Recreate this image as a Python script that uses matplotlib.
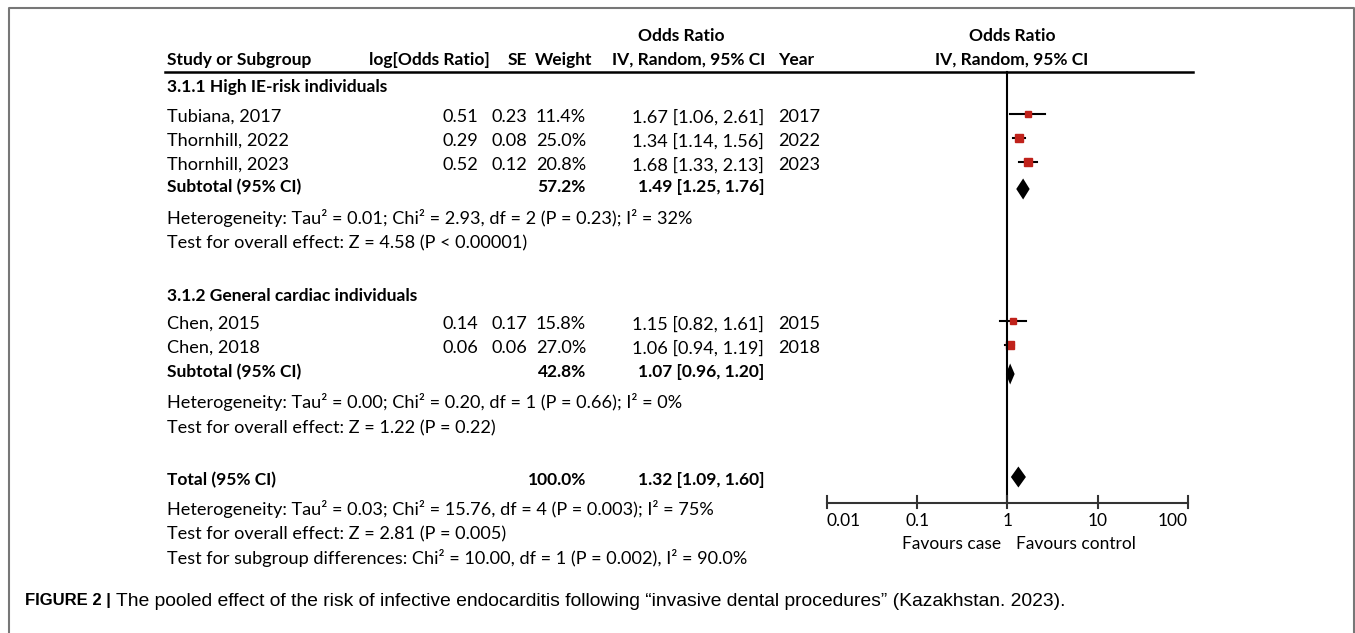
import matplotlib
matplotlib.use("Agg")
import matplotlib.pyplot as plt
import numpy as np

W, H = 1355, 633
TXT = ["Lato", "DejaVu Sans"]
CAP = ["Liberation Sans", "DejaVu Sans"]
FS, FSB = 13.1, 12.5

# ── data ────────────────────────────────────────────────────────────────────
studies = ["Tubiana, 2017", "Thornhill, 2022", "Thornhill, 2023", "Chen, 2015", "Chen, 2018"]
log_or  = [0.51, 0.29, 0.52, 0.14, 0.06]
se      = [0.23, 0.08, 0.12, 0.17, 0.06]
weight  = [11.4, 25.0, 20.8, 15.8, 27.0]
odds    = [1.67, 1.34, 1.68, 1.15, 1.06]
ci_lo   = [1.06, 1.14, 1.33, 0.82, 0.94]
ci_hi   = [2.61, 1.56, 2.13, 1.61, 1.19]
years   = [2017, 2022, 2023, 2015, 2018]

groups     = ["3.1.1 High IE-risk individuals", "3.1.2 General cardiac individuals"]
sub_weight = [57.2, 42.8]
sub_or     = [1.49, 1.07]
sub_lo     = [1.25, 0.96]
sub_hi     = [1.76, 1.20]
sub_het    = ["Heterogeneity: Tau² = 0.01; Chi² = 2.93, df = 2 (P = 0.23); I² = 32%",
              "Heterogeneity: Tau² = 0.00; Chi² = 0.20, df = 1 (P = 0.66); I² = 0%"]
sub_test   = ["Test for overall effect: Z = 4.58 (P < 0.00001)",
              "Test for overall effect: Z = 1.22 (P = 0.22)"]

total_weight = 100.0
total_or, total_lo, total_hi = 1.32, 1.09, 1.60
total_notes = ["Heterogeneity: Tau² = 0.03; Chi² = 15.76, df = 4 (P = 0.003); I² = 75%",
               "Test for overall effect: Z = 2.81 (P = 0.005)",
               "Test for subgroup differences: Chi² = 10.00, df = 1 (P = 0.002), I² = 90.0%"]

ticks       = [0.01, 0.1, 1, 10, 100]
tick_labels = ["0.01", "0.1", "1", "10", "100"]

# ── layout (pixel rows / columns) ──────────────────────────────────────────
study_y   = [117, 141, 165, 324, 348]
group_y   = [87, 296]
sub_y     = [187, 372]
het_y     = [218, 402]
test_y    = [243, 428]
total_y   = 480
notes_y   = [509, 534, 558]
AXIS_Y    = 503
TOP_Y     = 72
X_NAME, X_LOG, X_SE, X_WT, X_CI, X_YEAR = 167, 478, 527, 586, 764, 778

fig = plt.figure(figsize=(W / 100, H / 100), dpi=100)
ax = fig.add_axes([0, 0, 1, 1])
ax.set_xlim(0, W); ax.set_ylim(H, 0); ax.axis("off")

# forest panel: log x-scale, pixel y
fx = fig.add_axes([827 / W, 0, (1188 - 827) / W, 1])
fx.set_xscale("log"); fx.set_xlim(0.01, 100); fx.set_ylim(H, 0); fx.axis("off")

def t(x, y, s, ha="left", bold=False):
    ax.text(x, y, s, ha=ha, va="center", fontsize=FSB if bold else FS,
            fontweight="bold" if bold else "normal", family=TXT)

# figure frame
ax.plot([9, 9, 1354, 1354], [H, 8, 8, H], color="#777777", lw=1.5, clip_on=False)

# headers
t(681, 36, "Odds Ratio", ha="center", bold=True)
t(X_NAME, 60, "Study or Subgroup", bold=True)
t(490, 60, "log[Odds Ratio]", ha="right", bold=True)
t(X_SE, 60, "SE", ha="right", bold=True)
t(592, 60, "Weight", ha="right", bold=True)
t(765, 60, "IV, Random, 95% CI", ha="right", bold=True)
t(X_YEAR, 60, "Year", bold=True)
t(1012, 36, "Odds Ratio", ha="center", bold=True)
t(1012, 60, "IV, Random, 95% CI", ha="center", bold=True)
ax.plot([165, 1193], [TOP_Y, TOP_Y], color="black", lw=1.8)

# study rows
for i, name in enumerate(studies):
    y = study_y[i]
    t(X_NAME, y, name)
    t(X_LOG, y, f"{log_or[i]:.2f}", ha="right")
    t(X_SE, y, f"{se[i]:.2f}", ha="right")
    t(X_WT, y, f"{weight[i]:.1f}%", ha="right")
    t(X_CI, y, f"{odds[i]:.2f} [{ci_lo[i]:.2f}, {ci_hi[i]:.2f}]", ha="right")
    t(X_YEAR, y, str(years[i]))
    fx.plot([ci_lo[i], ci_hi[i]], [y - 3, y - 3], color="black", lw=1.5)
    side = 1.55 * np.sqrt(weight[i])
    fx.plot([odds[i]], [y - 3], marker="s", ms=side * 0.72, color="#c0221b",
            mec="#c0221b", lw=0)

def diamond(est, lo, hi, y, h=21):
    fx.fill([lo, est, hi, est], [y, y - h / 2, y, y + h / 2], color="black", lw=0)

# subgroup rows
for g in range(2):
    t(X_NAME, group_y[g], groups[g], bold=True)
    t(X_NAME, sub_y[g], "Subtotal (95% CI)", bold=True)
    t(X_WT, sub_y[g], f"{sub_weight[g]:.1f}%", ha="right", bold=True)
    t(X_CI, sub_y[g], f"{sub_or[g]:.2f} [{sub_lo[g]:.2f}, {sub_hi[g]:.2f}]", ha="right", bold=True)
    t(X_NAME, het_y[g], sub_het[g])
    t(X_NAME, test_y[g], sub_test[g])
    diamond(sub_or[g], sub_lo[g], sub_hi[g], sub_y[g] + 2)

# total
t(X_NAME, total_y, "Total (95% CI)", bold=True)
t(X_WT, total_y, f"{total_weight:.1f}%", ha="right", bold=True)
t(X_CI, total_y, f"{total_or:.2f} [{total_lo:.2f}, {total_hi:.2f}]", ha="right", bold=True)
for s, y in zip(total_notes, notes_y):
    t(X_NAME, y, s)
diamond(total_or, total_lo, total_hi, total_y - 3)

# forest axis
fx.plot([1, 1], [TOP_Y, AXIS_Y], color="black", lw=1.5)
fx.plot([ticks[0], ticks[-1]], [AXIS_Y, AXIS_Y], color="#333333", lw=1.5, clip_on=False)
tick_ha = ["left", "center", "center", "center", "right"]
for v, lab, ha in zip(ticks, tick_labels, tick_ha):
    fx.plot([v, v], [AXIS_Y - 7, AXIS_Y + 5], color="#333333", lw=1.5, clip_on=False)
    fx.text(v, AXIS_Y + 18, lab, ha=ha, va="center", fontsize=12.5, family=TXT, clip_on=False)
fx.text(0.85, 544, "Favours case", ha="right", va="center", fontsize=12.5, family=TXT)
fx.text(1.25, 544, "Favours control", ha="left", va="center", fontsize=12.5, family=TXT)

# caption
cap1 = ax.text(25, 601, "FIGURE 2 |", ha="left", va="center", fontsize=12,
               fontweight="bold", family=CAP)
fig.canvas.draw()
bb = cap1.get_window_extent().transformed(ax.transData.inverted())
ax.text(bb.x1 + 5, 601, "The pooled effect of the risk of infective endocarditis following "
        "\u201cinvasive dental procedures\u201d (Kazakhstan. 2023).", ha="left", va="center",
        fontsize=13.9, family=CAP)

fig.savefig("out.png", dpi=100)
